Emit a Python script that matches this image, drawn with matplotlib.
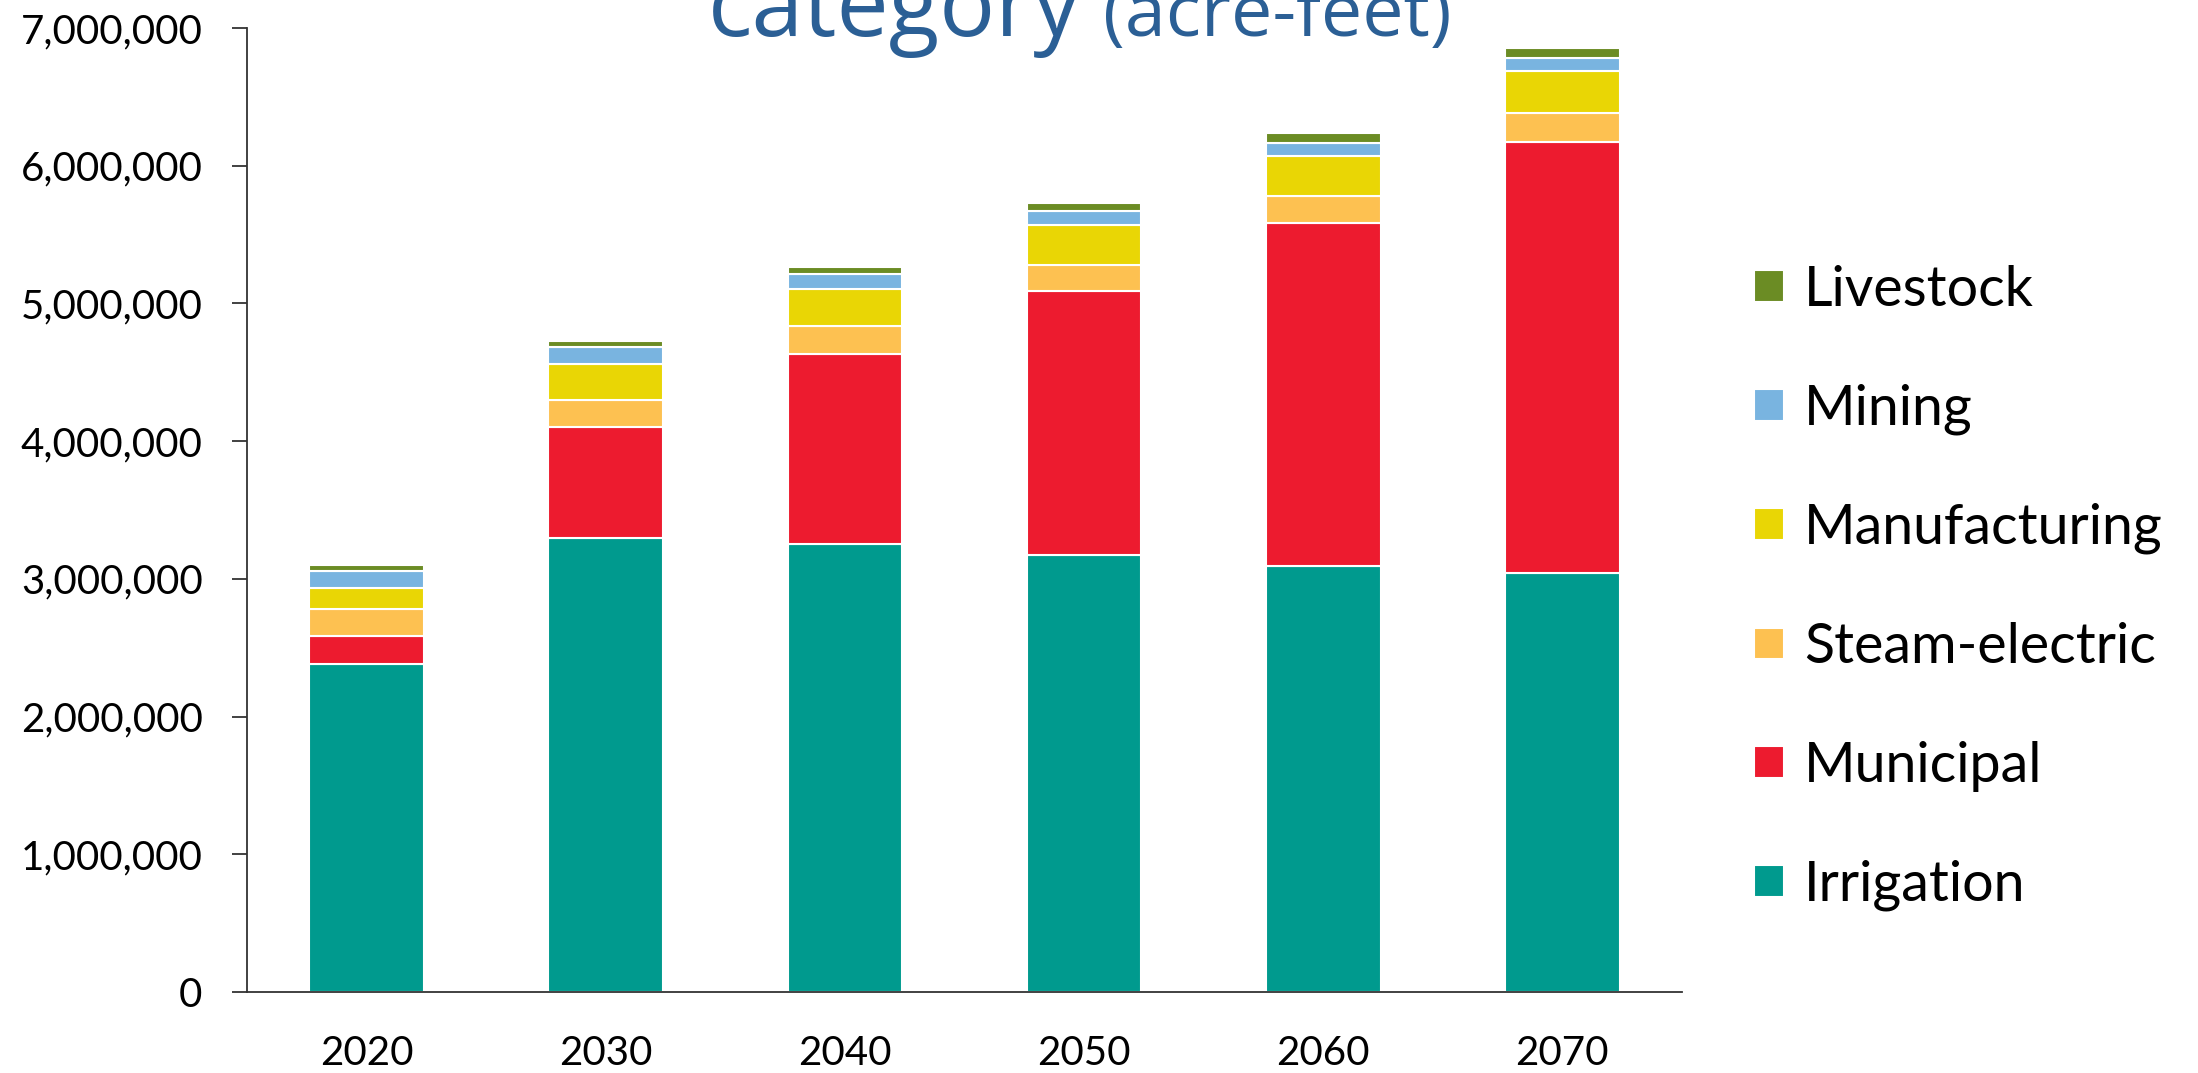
import matplotlib
matplotlib.use("Agg")
import numpy as np
import matplotlib.pyplot as plt
from matplotlib.ticker import FuncFormatter

years = ["2020", "2030", "2040", "2050", "2060", "2070"]
categories = ["Irrigation", "Municipal", "Steam-electric", "Manufacturing", "Mining", "Livestock"]

# acre-feet
irrigation = [2384000, 3298000, 3254000, 3174000, 3092000, 3044000]
municipal = [204000, 804000, 1376000, 1914000, 2492000, 3125000]
steam_electric = [194000, 194000, 206000, 194000, 196000, 211000]
manufacturing = [153000, 267000, 267000, 291000, 290000, 305000]
mining = [125000, 121000, 109000, 97000, 95000, 95000]
livestock = [42000, 43000, 53000, 56000, 70000, 72000]

series = [irrigation, municipal, steam_electric, manufacturing, mining, livestock]
colors = ["#009a8e", "#ed1b2f", "#fdc151", "#e9d605", "#79b4e0", "#6b8c24"]

tick_font = ["Lato", "DejaVu Sans"]

fig = plt.figure(figsize=(21.98, 10.73), dpi=100)
ax = fig.add_axes([0.1124, 0.0755, 0.6528, 0.8984])

x = np.arange(len(years))
bottom = np.zeros(len(years))
bars = []
for vals, col, name in zip(series, colors, categories):
    b = ax.bar(x, vals, width=0.48, bottom=bottom, color=col,
               edgecolor="white", linewidth=1.5, label=name)
    bars.append(b)
    bottom += np.array(vals)

ax.set_xlim(-0.5, 5.5)
ax.set_ylim(0, 7000000)
ax.set_yticks(np.arange(0, 7000001, 1000000))
ax.yaxis.set_major_formatter(FuncFormatter(lambda v, p: "{:,.0f}".format(v)))
ax.set_xticks(x)
ax.set_xticklabels(years)

for s in ["top", "right"]:
    ax.spines[s].set_visible(False)
for s in ["left", "bottom"]:
    ax.spines[s].set_color("#333333")
    ax.spines[s].set_linewidth(1.3)

ax.tick_params(axis="y", length=11, width=1.3, color="#333333", pad=21)
ax.tick_params(axis="x", length=0, pad=31)
for lab in ax.get_xticklabels() + ax.get_yticklabels():
    lab.set_fontfamily(tick_font)
    lab.set_fontsize(29)
    lab.set_color("black")

leg = ax.legend(bars[::-1], categories[::-1], loc="center left",
                bbox_to_anchor=(1.035, 0.419), frameon=False,
                prop={"family": tick_font, "size": 40},
                handlelength=0.54, handleheight=0.5, handletextpad=0.36,
                labelspacing=1.22, borderaxespad=0)

# title, cut off at the top edge like in the original slide
fig.text(0.322, 1 - 36 / 1073, "category", fontsize=67, color="#2b5f95",
         family=["Open Sans", "DejaVu Sans"], ha="left", va="baseline")
fig.text(0.502, 1 - 36 / 1073, "(acre-feet)", fontsize=53, color="#2b5f95",
         family=["Open Sans", "DejaVu Sans"], ha="left", va="baseline")

fig.savefig("out.png", dpi=100)
